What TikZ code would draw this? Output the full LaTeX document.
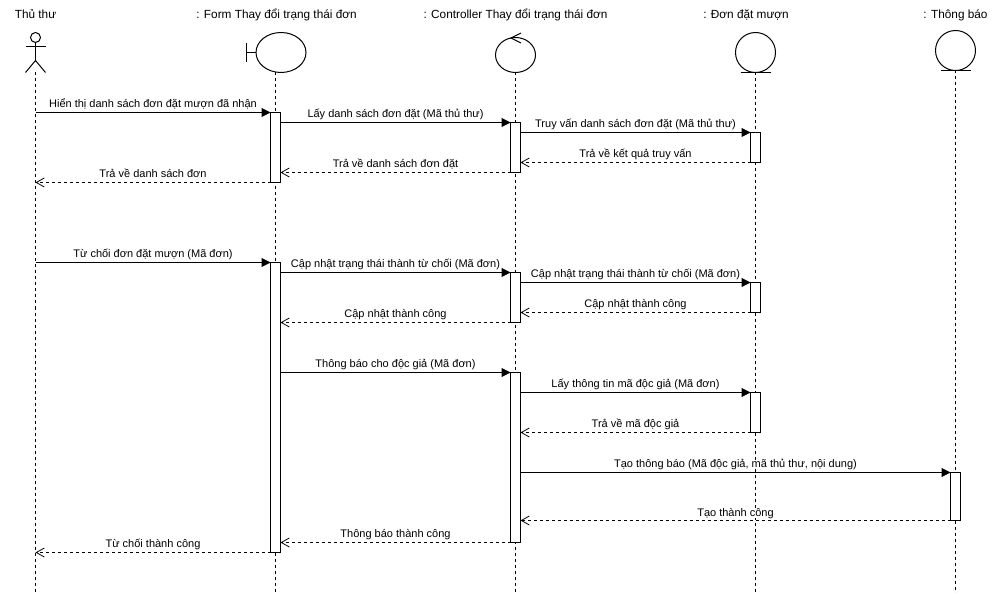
\documentclass[tikz,border=0pt]{standalone}
\usepackage{fontspec}
\setmainfont{Liberation Sans}
\usetikzlibrary{arrows.meta,shapes.geometric}
\tikzset{
  life/.style={line width=1pt,dash pattern=on 3pt off 3pt},
  head/.style={draw,line width=1pt,fill=white,inner sep=0pt,outer sep=0pt},
  bar/.style={draw,line width=1pt,fill=white,minimum width=10pt,inner sep=0pt,outer sep=0pt},
  title/.style={font=\fontsize{11.8}{14}\selectfont,inner sep=0pt,anchor=base},
  call/.style={line width=1pt,-{Triangle[length=9pt,width=9pt]}},
  ret/.style={line width=1pt,dash pattern=on 3pt off 3pt,-{Straight Barb[length=8pt,width=9pt,line width=.8pt]}},
  lbl/.style={font=\fontsize{11}{13}\selectfont,inner sep=0pt,anchor=base,midway,yshift=5pt,fill=white,text height=7pt,text depth=1pt}
}
\begin{document}
\begin{tikzpicture}[x=1pt,y=-1pt]
\useasboundingbox (-.5,-.5) rectangle (999.5,592.5);
% titles
\node[title] (t0) at (35,18.5) {Thủ thư};
\node[title] (t1) at (276,18.5) {: Form Thay đổi trạng thái đơn};
\node[title] (t2) at (515,18.5) {: Controller Thay đổi trạng thái đơn};
\node[title] (t3) at (745.5,18.5) {: Đơn đặt mượn};
\node[title] (t4) at (955,18.5) {: Thông báo};
% lifeline ends
\coordinate (e0) at (35,593);
\coordinate (e1) at (275,593);
\coordinate (e2) at (515,593);
\coordinate (e3) at (755,593);
\coordinate (e4) at (955,593);
\coordinate (s0) at (35,72);
\coordinate (s1) at (275,72);
\coordinate (s2) at (515,72);
\coordinate (s3) at (755,72);
\coordinate (s4) at (955,70);
\draw[life] (s0) -- (e0);
\draw[life] (s1) -- (e1);
\draw[life] (s2) -- (e2);
\draw[life] (s3) -- (e3);
\draw[life] (s4) -- (e4);
% actor
\node[head,circle,minimum size=10pt] (actorhead) at (35,37) {};
\draw[line width=1pt] (actorhead.south) -- (s0 |- 0,60) coordinate (hip);
\draw[line width=1pt] (25,46) -- (45,46);
\draw[line width=1pt] (25,72) -- (hip) -- (45,72);
% boundary
\node[head,ellipse,minimum width=50pt,minimum height=40pt] (bnd) at (280.5,52) {};
\draw[line width=1pt] (bnd.west) -- (245.5,52);
\draw[line width=1pt] (245.5,43) -- (245.5,62);
% control
\node[head,ellipse,minimum width=40pt,minimum height=35pt] (ctl) at (515,54.5) {};
\draw[line width=1pt] (520.5,32.5) -- (510.5,37.5) -- (520.5,42.5);
% entities
\node[head,circle,minimum size=40pt] (ent) at (755,52) {};
\draw[line width=1pt] (740,72) -- (770,72);
\node[head,circle,minimum size=40pt] (ntf) at (955,50) {};
\draw[line width=1pt] (940,70) -- (970,70);
% activations
\node[bar,minimum height=70pt] (f1) at (275,147) {};
\node[bar,minimum height=50pt] (c1) at (515,147) {};
\node[bar,minimum height=30pt] (d1) at (755,147) {};
\node[bar,minimum height=290pt] (f2) at (275,407) {};
\node[bar,minimum height=50pt] (c2) at (515,297) {};
\node[bar,minimum height=30pt] (d2) at (755,297) {};
\node[bar,minimum height=170pt] (c3) at (515,457) {};
\node[bar,minimum height=40pt] (d3) at (755,412) {};
\node[bar,minimum height=48pt] (n1) at (955,496) {};
% free ends on the actor lifeline
\coordinate (a1) at (35,112);
\coordinate (a2) at (35,182);
\coordinate (a3) at (35,262);
\coordinate (a4) at (35,552);
% messages
\draw[call] (a1) -- node[lbl]{Hiển thị danh sách đơn đặt mượn đã nhận} (f1.north west);
\draw[call] ([yshift=-10pt]f1.north east) -- node[lbl]{Lấy danh sách đơn đặt (Mã thủ thư)} (c1.north west);
\draw[call] ([yshift=-10pt]c1.north east) -- node[lbl]{Truy vấn danh sách đơn đặt (Mã thủ thư)} (d1.north west);
\draw[ret] (d1.south west) -- node[lbl]{Trả về kết quả truy vấn} ([yshift=10pt]c1.south east);
\draw[ret] (c1.south west) -- node[lbl]{Trả về danh sách đơn đặt} ([yshift=10pt]f1.south east);
\draw[ret] (f1.south west) -- node[lbl]{Trả về danh sách đơn} (a2);
\draw[call] (a3) -- node[lbl]{Từ chối đơn đặt mượn (Mã đơn)} (f2.north west);
\draw[call] ([yshift=-10pt]f2.north east) -- node[lbl]{Cập nhật trạng thái thành từ chối (Mã đơn)} (c2.north west);
\draw[call] ([yshift=-10pt]c2.north east) -- node[lbl]{Cập nhật trạng thái thành từ chối (Mã đơn)} (d2.north west);
\draw[ret] (d2.south west) -- node[lbl]{Cập nhật thành công} ([yshift=10pt]c2.south east);
\draw[ret] (c2.south west) -- node[lbl]{Cập nhật thành công} ([yshift=-60pt]f2.north east);
\draw[call] ([yshift=-110pt]f2.north east) -- node[lbl]{Thông báo cho độc giả (Mã đơn)} (c3.north west);
\draw[call] ([yshift=-20pt]c3.north east) -- node[lbl]{Lấy thông tin mã độc giả (Mã đơn)} (d3.north west);
\draw[ret] (d3.south west) -- node[lbl]{Trả về mã độc giả} ([yshift=-60pt]c3.north east);
\draw[call] ([yshift=-100pt]c3.north east) -- node[lbl]{Tạo thông báo (Mã độc giả, mã thủ thư, nội dung)} (n1.north west);
\draw[ret] (n1.south west) -- node[lbl,yshift=-1pt]{Tạo thành công} ([yshift=-148pt]c3.north east);
\draw[ret] (c3.south west) -- node[lbl]{Thông báo thành công} ([yshift=10pt]f2.south east);
\draw[ret] (f2.south west) -- node[lbl]{Từ chối thành công} (a4);
\end{tikzpicture}
\end{document}
